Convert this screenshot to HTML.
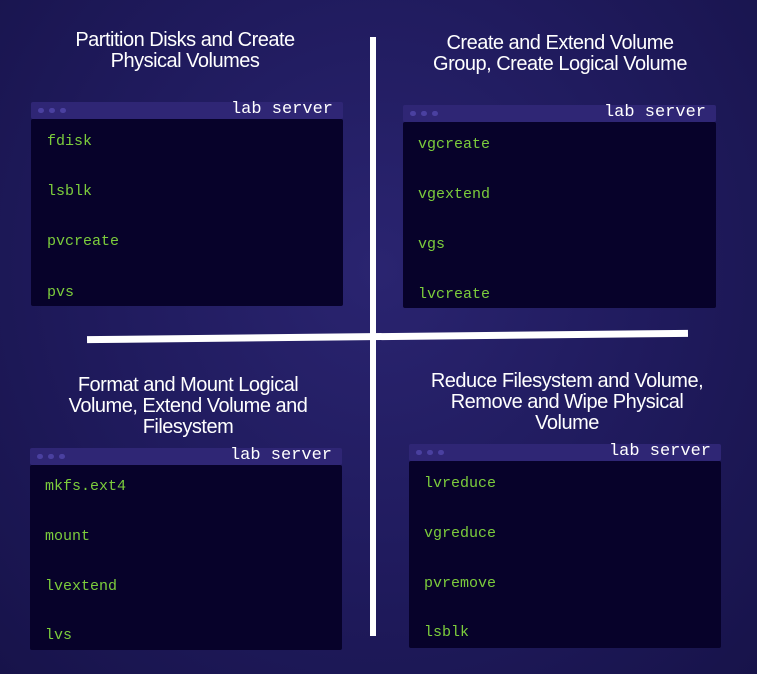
<!DOCTYPE html>
<html><head><meta charset="utf-8"><style>
body{margin:0;width:757px;height:674px;overflow:hidden;background:radial-gradient(ellipse at 50% 40%,#2a2470 0%,#1f1a5c 55%,#17134a 100%);font-family:"Liberation Sans",sans-serif;position:relative}
.t{position:absolute;color:#fff;font-size:20px;line-height:21px;text-align:center;letter-spacing:-0.5px}
.bar{position:absolute;height:17px;background:#2f2675;border-radius:2px}
.bar span{position:absolute;right:10px;top:-2px;color:#fff;font-family:"Liberation Mono",monospace;font-size:17px}
.bar i{position:absolute;top:6px;width:6px;height:5px;border-radius:3px;background:#4a40a0}
.body{position:absolute;background:#07022a;border-radius:2px}
.c{position:absolute;color:#7ccd3c;font-family:"Liberation Mono",monospace;font-size:15px;line-height:18px}
.l{position:absolute;background:#fff}
</style></head><body>
<div class="t" style="left:25px;top:30px;width:320px">Partition Disks and Create<br>Physical Volumes</div>
<div class="t" style="left:395px;top:33px;width:330px">Create and Extend Volume<br>Group, Create Logical Volume</div>
<div class="t" style="left:28px;top:375px;width:320px">Format and Mount Logical<br>Volume, Extend Volume and<br>Filesystem</div>
<div class="t" style="left:397px;top:371px;width:340px">Reduce Filesystem and Volume,<br>Remove and Wipe Physical<br>Volume</div>

<div class="bar" style="left:31px;top:102px;width:312px"><i style="left:7px"></i><i style="left:18px"></i><i style="left:29px"></i><span>lab server</span></div>
<div class="body" style="left:31px;top:119px;width:312px;height:187px"></div>
<div class="c" style="left:47px;top:133px">fdisk</div><div class="c" style="left:47px;top:183px">lsblk</div><div class="c" style="left:47px;top:233px">pvcreate</div><div class="c" style="left:47px;top:284px">pvs</div>

<div class="bar" style="left:403px;top:105px;width:313px"><i style="left:7px"></i><i style="left:18px"></i><i style="left:29px"></i><span>lab server</span></div>
<div class="body" style="left:403px;top:122px;width:313px;height:186px"></div>
<div class="c" style="left:418px;top:136px">vgcreate</div><div class="c" style="left:418px;top:186px">vgextend</div><div class="c" style="left:418px;top:236px">vgs</div><div class="c" style="left:418px;top:286px">lvcreate</div>

<div class="bar" style="left:30px;top:448px;width:312px"><i style="left:7px"></i><i style="left:18px"></i><i style="left:29px"></i><span>lab server</span></div>
<div class="body" style="left:30px;top:465px;width:312px;height:185px"></div>
<div class="c" style="left:45px;top:478px">mkfs.ext4</div><div class="c" style="left:45px;top:528px">mount</div><div class="c" style="left:45px;top:578px">lvextend</div><div class="c" style="left:45px;top:627px">lvs</div>

<div class="bar" style="left:409px;top:444px;width:312px"><i style="left:7px"></i><i style="left:18px"></i><i style="left:29px"></i><span>lab server</span></div>
<div class="body" style="left:409px;top:461px;width:312px;height:187px"></div>
<div class="c" style="left:424px;top:475px">lvreduce</div><div class="c" style="left:424px;top:525px">vgreduce</div><div class="c" style="left:424px;top:575px">pvremove</div><div class="c" style="left:424px;top:624px">lsblk</div>

<div class="l" style="left:370px;top:37px;width:6px;height:599px"></div>
<div class="l" style="left:87px;top:333px;width:601px;height:7px;transform:rotate(-0.6deg);transform-origin:center"></div>
</body></html>
